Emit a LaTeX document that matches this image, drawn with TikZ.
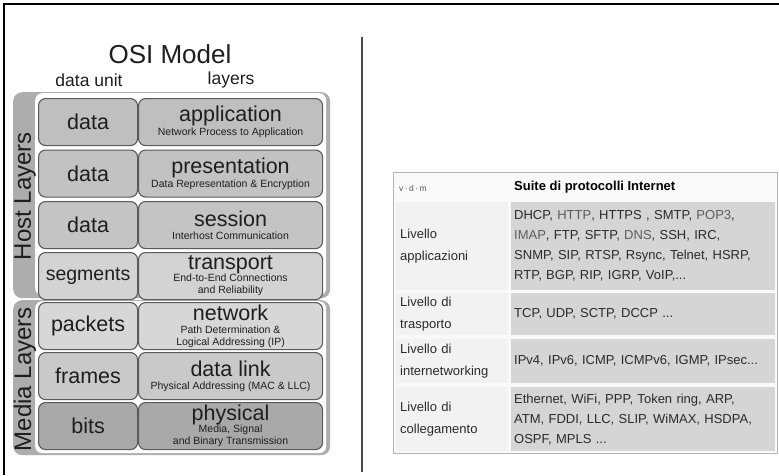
\documentclass[tikz,border=0pt]{standalone}
\usepackage{fontspec}
\setmainfont{Liberation Sans}
\definecolor{bandC}{HTML}{ADADAD}
\definecolor{boxline}{HTML}{5A5A5A}
\definecolor{appC}{HTML}{BFBFBF}
\definecolor{presC}{HTML}{C2C2C2}
\definecolor{sessC}{HTML}{C4C4C4}
\definecolor{transC}{HTML}{D3D3D3}
\definecolor{netC}{HTML}{D7D7D7}
\definecolor{linkC}{HTML}{C9C9C9}
\definecolor{physC}{HTML}{A9A9A9}
\definecolor{tblborder}{HTML}{B4B4B4}
\definecolor{tblbg}{HTML}{F9F9F9}
\definecolor{leftcell}{HTML}{F2F2F2}
\definecolor{datacell}{HTML}{D5D5D5}
\definecolor{txt}{HTML}{1E1E1E}
\definecolor{tbltxt}{HTML}{2A2A2A}
\definecolor{lnk}{HTML}{5C5C5C}
\definecolor{divC}{HTML}{4A4A4A}
\newcommand\osimain[1]{{\fontsize{21.5}{16}\selectfont #1}}
\newcommand\osisub[1]{{\fontsize{10.5}{11}\selectfont #1}}
\newcommand\lk[1]{\textcolor{lnk}{#1}}
\tikzset{
  unitbox/.style={draw=boxline, line width=1.1pt, rounded corners=7pt,
    minimum width=99pt, minimum height=47pt, anchor=north west, inner sep=0pt,
    font=\fontsize{21.5}{22}\selectfont, text=txt},
  layerbox/.style={draw=boxline, line width=1.1pt, rounded corners=7pt,
    minimum width=184pt, minimum height=47pt, anchor=north west, inner sep=0pt,
    align=center, text=txt},
  bandbox/.style={fill=bandC, rounded corners=9pt, anchor=north west, inner sep=0pt,
    minimum width=317pt},
  whitebox/.style={fill=white, rounded corners=7pt, anchor=north west, inner sep=0pt,
    minimum width=291pt},
  sidelabel/.style={rotate=90, font=\fontsize{24}{24}\selectfont, text=txt, inner sep=0pt},
  leftcellbox/.style={fill=leftcell, anchor=north west, minimum width=112pt, text width=104pt,
    inner xsep=4pt, inner ysep=0pt, align=left, font=\fontsize{13}{22}\selectfont, text=tbltxt},
  datacellbox/.style={fill=datacell, anchor=north west, minimum width=263pt, text width=258pt,
    inner xsep=3pt, inner ysep=0pt, align=left, font=\fontsize{13}{20}\selectfont, text=tbltxt},
}
\begin{document}
\begin{tikzpicture}[x=1pt,y=-1pt]
\useasboundingbox (0,0) rectangle (779,475);
\fill[white] (0,0) rectangle (779,475);
% frame
\coordinate (frTL) at (4,4);
\coordinate (frTR) at (779,4);
\coordinate (frBL) at (4,475);
\draw[line width=1.6pt, black] (frTR) -- (frTL) -- (frBL);
% divider
\coordinate (divtop) at (362,37);
\coordinate (divbot) at (362,472);
\draw[line width=2.4pt, divC] (divtop) -- (divbot);

% titles
\node[font=\fontsize{26}{26}\selectfont, text=txt] (title) at (170,54) {OSI Model};
\node[font=\fontsize{17.5}{18}\selectfont, text=txt] (dunit) at (89,80) {data unit};
\node[font=\fontsize{17.5}{18}\selectfont, text=txt] (layers) at (231,80) {layers};

% group panels
\node[bandbox, minimum height=206pt] (hostband) at (13,92) {};
\node[whitebox, minimum height=202pt] (hostwhite) at (35,93) {};
\node[bandbox, minimum height=155pt] (mediaband) at (13,300) {};
\node[whitebox, minimum height=152pt] (mediawhite) at (35,301) {};
\node[sidelabel] (hostlbl) at (25,196) {Host Layers};
\node[sidelabel] (medialbl) at (25,379) {Media Layers};

% rows
\node[unitbox, fill=appC] (u1) at (38,98) {data};
\node[layerbox, fill=appC] (l1) at (138,98) {\osimain{application}\\[1pt]\osisub{Network Process to Application}};
\node[unitbox, fill=presC] (u2) at (38,149.5) {data};
\node[layerbox, fill=presC] (l2) at (138,149.5) {\osimain{presentation}\\[1pt]\osisub{Data Representation \& Encryption}};
\node[unitbox, fill=sessC] (u3) at (38,201) {data};
\node[layerbox, fill=sessC] (l3) at (138,201) {\osimain{session}\\[1pt]\osisub{Interhost Communication}};
\node[unitbox, fill=transC, font=\fontsize{19.5}{20}\selectfont] (u4) at (38,252) {segments};
\node[layerbox, fill=transC] (l4) at (138,252) {\osimain{transport}\\[-1pt]\osisub{End-to-End Connections}\\\osisub{and Reliability}};
\node[unitbox, fill=netC] (u5) at (38,302) {packets};
\node[layerbox, fill=netC] (l5) at (138,302) {\osimain{network}\\[0.5pt]\osisub{Path Determination \&}\\[0pt]\osisub{Logical Addressing (IP)}};
\node[unitbox, fill=linkC] (u6) at (38,352) {frames};
\node[layerbox, fill=linkC] (l6) at (138,352) {\osimain{data link}\\[1pt]\osisub{Physical Addressing (MAC \& LLC)}};
\node[unitbox, fill=physC] (u7) at (38,402) {bits};
\node[layerbox, fill=physC] (l7) at (138,402) {\osimain{physical}\\[-1pt]\osisub{Media, Signal}\\\osisub{and Binary Transmission}};

% table
\node[draw=tblborder, line width=0.8pt, fill=tblbg, anchor=north west, inner sep=0pt,
      minimum width=384pt, minimum height=281pt] (tbl) at (393,172) {};
\node[anchor=west, font=\fontsize{8.5}{9}\selectfont, text=lnk, inner sep=0pt] (vdm) at (399,188) {v\,·\,d\,·\,m};
\node[anchor=west, font=\fontsize{13}{14}\selectfont\bfseries, text=black, inner sep=0pt] (suite) at (514,187) {Suite di protocolli Internet};

\node[leftcellbox, minimum height=88pt] (lc1) at (396,202) {Livello\\applicazioni};
\node[datacellbox, minimum height=88pt] (dc1) at (511,202)
  {DHCP, \lk{HTTP}, HTTPS , SMTP, \lk{POP3},\\\lk{IMAP}, FTP, SFTP, \lk{DNS}, SSH, IRC,\\SNMP, SIP, RTSP, Rsync, Telnet, HSRP,\\RTP, BGP, RIP, IGRP, VoIP,...};
\node[leftcellbox, minimum height=42pt] (lc2) at (396,293) {Livello di\\trasporto};
\node[datacellbox, minimum height=42pt] (dc2) at (511,293) {TCP, UDP, SCTP, DCCP ...};
\node[leftcellbox, minimum height=44pt] (lc3) at (396,339) {Livello di\\internetworking};
\node[datacellbox, minimum height=44pt] (dc3) at (511,339) {IPv4, IPv6, ICMP, ICMPv6, IGMP, IPsec...};
\node[leftcellbox, minimum height=64pt] (lc4) at (396,387) {Livello di\\collegamento};
\node[datacellbox, minimum height=64pt] (dc4) at (511,387)
  {Ethernet, WiFi, PPP, Token ring, ARP,\\ATM, FDDI, LLC, SLIP, WiMAX, HSDPA,\\OSPF, MPLS ...};
\end{tikzpicture}
\end{document}
